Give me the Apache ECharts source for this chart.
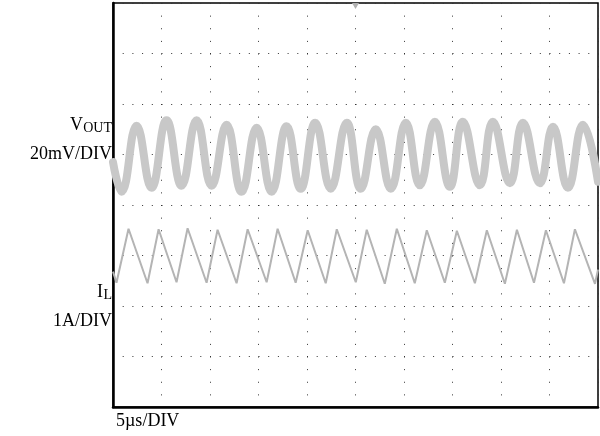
<!DOCTYPE html>
<html>
<head>
<meta charset="utf-8">
<script src="https://cdn.jsdelivr.net/npm/echarts@6/dist/echarts.min.js"></script>
<style>html,body{margin:0;padding:0;background:#fff;}#c{width:600px;height:436px;}</style>
</head>
<body>
<div id="c"></div>
<script>
// Time axis: 5 µs/DIV, 10 divisions
const xTicks = [0, 5, 10, 15, 20, 25, 30, 35, 40, 45, 50];
// Vertical scale in screen divisions (8 divisions, centre = 0)
const yTicks = [-4, -3, -2, -1, 0, 1, 2, 3, 4];

// VOUT (20mV/DIV) – peaks and troughs, in µs / divisions
const voutTime = [0, 0.88, 2.43, 3.97, 5.52, 7.07, 8.62, 10.17, 11.71, 13.26, 14.81, 16.36, 17.90, 19.35, 20.85, 22.45, 24.10, 25.54, 27.09, 28.64, 30.19, 31.63, 33.18, 34.73, 36.07, 37.82, 39.16, 40.92, 42.26, 44.01, 45.36, 46.90, 48.45, 50];
const voutDiv = [0.85, 0.26, 1.57, 0.34, 1.68, 0.38, 1.68, 0.38, 1.59, 0.26, 1.53, 0.26, 1.56, 0.32, 1.63, 0.32, 1.63, 0.32, 1.50, 0.32, 1.63, 0.39, 1.65, 0.36, 1.65, 0.39, 1.65, 0.43, 1.63, 0.43, 1.55, 0.34, 1.59, 0.46];

// IL (1A/DIV) – triangle vertices
const ilTime = [0, 0.36, 1.60, 3.56, 4.70, 6.55, 7.69, 9.65, 10.78, 12.74, 13.88, 15.84, 16.97, 18.83, 20.07, 21.93, 23.07, 25.03, 26.16, 28.02, 29.26, 31.11, 32.35, 34.21, 35.45, 37.31, 38.54, 40.40, 41.64, 43.40, 44.63, 46.49, 47.62, 49.69, 50];
const ilDiv = [-1.32, -1.54, -0.47, -1.55, -0.48, -1.53, -0.46, -1.54, -0.49, -1.55, -0.48, -1.53, -0.47, -1.54, -0.50, -1.55, -0.48, -1.53, -0.49, -1.56, -0.47, -1.55, -0.50, -1.54, -0.51, -1.55, -0.50, -1.56, -0.49, -1.54, -0.50, -1.55, -0.48, -1.56, -1.28];

// Trigger marker position (time, division)
const triggerPos = [25, 4];

const labels = {
  vout: ['V', 'OUT', '20mV/DIV'],
  il: ['I', 'L', '1A/DIV'],
  time: '5\u00b5s/DIV'
};

const SERIF = '"Liberation Serif", "DejaVu Serif", serif';
const chart = echarts.init(document.getElementById('c'), null, {renderer: 'canvas'});

const zip = (a, b) => a.map((v, i) => [v, b[i]]);

function txt(x, y, text, size, align) {
  return {type: 'text', x: x, y: y, z: 100,
    style: {text: text, font: size + 'px ' + SERIF, fill: '#000', align: align || 'right', verticalAlign: 'top'}};
}

const option = {
  animation: false,
  backgroundColor: '#fff',
  grid: {
    left: 113, top: 3, width: 485, height: 404,
    show: true, borderColor: '#000', borderWidth: 1.5, backgroundColor: '#fff'
  },
  xAxis: {
    type: 'value', min: xTicks[0], max: xTicks[xTicks.length - 1], interval: 5,
    axisLine: {show: true, onZero: false, lineStyle: {color: '#000', width: 2.5}},
    axisTick: {show: false}, axisLabel: {show: false},
    splitLine: {show: true, lineStyle: {color: '#333', width: 1, type: [1, 11.625]}}
  },
  yAxis: {
    type: 'value', min: yTicks[0], max: yTicks[yTicks.length - 1], interval: 1,
    axisLine: {show: true, onZero: false, lineStyle: {color: '#000', width: 2.5}},
    axisTick: {show: false}, axisLabel: {show: false},
    splitLine: {show: true, lineStyle: {color: '#333', width: 1, type: [1, 8.7]}}
  },
  series: [
    {
      name: 'VOUT', type: 'line', data: zip(voutTime, voutDiv),
      smooth: 0.45, showSymbol: false,
      lineStyle: {color: '#c8c8c8', width: 8, cap: 'round', join: 'round'},
      z: 3
    },
    {
      name: 'IL', type: 'line', data: zip(ilTime, ilDiv),
      smooth: false, showSymbol: false,
      lineStyle: {color: '#b4b4b4', width: 2},
      z: 4,
      markPoint: {
        symbol: 'triangle', symbolRotate: 180, symbolSize: [7, 6], symbolOffset: [0, 3],
        itemStyle: {color: '#b0b0b0'}, label: {show: false},
        data: [{coord: triggerPos}]
      }
    }
  ],
  graphic: [
    txt(112 - 29, 116, labels.vout[0], 18),
    txt(112, 121, labels.vout[1], 14),
    txt(112, 145, labels.vout[2], 18),
    txt(112 - 9, 283, labels.il[0], 18),
    txt(112, 288, labels.il[1], 14),
    txt(112, 312, labels.il[2], 18),
    txt(116, 412, labels.time, 18, 'left')
  ]
};
chart.setOption(option);
</script>
</body>
</html>
